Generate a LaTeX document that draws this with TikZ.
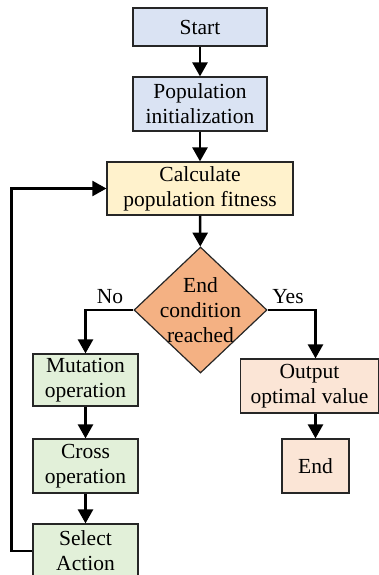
\documentclass[tikz,border=0pt]{standalone}
\usepackage{fontspec}
\setmainfont{Liberation Serif}
\newfontfamily\diagfont{Liberation Serif}
\usetikzlibrary{shapes.geometric,arrows.meta}
\definecolor{cblue}{HTML}{DAE3F3}
\definecolor{cyellow}{HTML}{FFF2CC}
\definecolor{corange}{HTML}{F4B183}
\definecolor{cpeach}{HTML}{FBE5D6}
\definecolor{cgreen}{HTML}{E2F0D9}
\begin{document}
\begin{tikzpicture}[x=1pt,y=-1pt,
  box/.style={draw=black!85, line width=1.2pt, align=center, inner sep=0pt,
    font=\diagfont\fontsize{21.5}{25}\selectfont},
  txt/.style={align=center, inner sep=0pt, font=\diagfont\fontsize{21.5}{25}\selectfont},
  arr/.style={line width=2.5pt, -{Triangle[length=14pt,width=15pt]}},
  loopline/.style={line width=2.2pt}]
\useasboundingbox (0,0) rectangle (379,575);
\clip (0,0) rectangle (379,575);
\node[box, fill=cblue, minimum width=134pt, minimum height=38pt] (start) at (200,27) {Start};
\node[box, fill=cblue, minimum width=134pt, minimum height=54pt] (init) at (200,104) {Population\\initialization};
\node[box, fill=cyellow, minimum width=186pt, minimum height=53pt] (calc) at (200,188.5) {Calculate\\population fitness};
\node[draw=black!85, line width=1.2pt, fill=corange, diamond, inner sep=0pt, aspect=1.055,
  minimum width=133pt, minimum height=126pt] (dec) at (200.5,310) {};
\node[txt] (dect) at (200.5,310) {End\\condition\\reached};
\node[box, fill=cgreen, minimum width=105pt, minimum height=52pt] (mut) at (85.5,380) {Mutation\\operation};
\node[box, fill=cgreen, minimum width=105pt, minimum height=54pt] (cross) at (85.5,466) {Cross\\operation};
\node[box, fill=cgreen, minimum width=105pt, minimum height=54pt] (sel) at (85.5,551) {Select\\Action};
\node[box, fill=cpeach, minimum width=138pt, minimum height=54pt] (out) at (309.5,386) {Output\\optimal value};
\node[box, fill=cpeach, minimum width=67pt, minimum height=54pt] (end) at (315.5,466) {End};
\node[txt] (no) at (110,297) {No};
\node[txt] (yes) at (288,297) {Yes};
\draw[arr] (start) -- (init);
\draw[arr] (init) -- (calc);
\draw[arr] (calc) -- (dec);
\draw[arr] (dec.west) -| (mut.north);
\draw[arr] (dec.east) -| (end.north |- out.north);
\draw[arr] (end.north |- out.south) -- (end.north);
\draw[arr] (mut) -- (cross);
\draw[arr] (cross) -- (sel);
\draw[loopline, -{Triangle[length=14pt,width=15pt]}] (sel.west) -- ++(-21,0) |- (calc.west);
\end{tikzpicture}
\end{document}
